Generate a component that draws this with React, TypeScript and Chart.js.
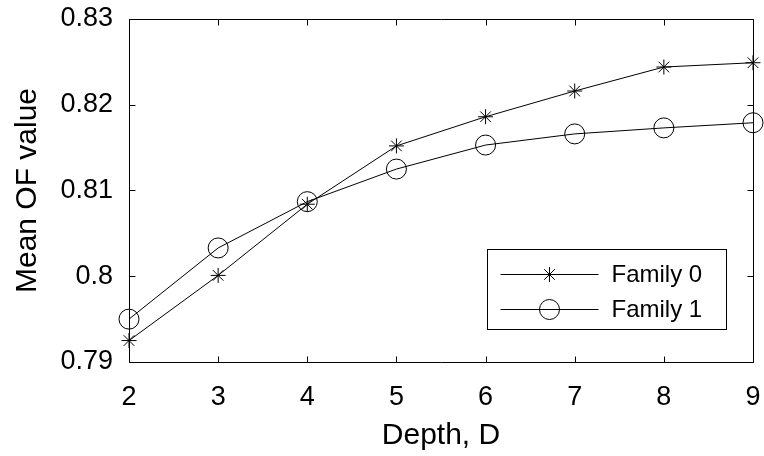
import React, { useEffect, useRef } from 'react';
import { Chart, registerables } from 'chart.js';

Chart.register(...registerables);

const depths = [2, 3, 4, 5, 6, 7, 8, 9];
const family0 = [0.7925, 0.8001, 0.8084, 0.8152, 0.8186, 0.8216, 0.8244, 0.8249];
const family1 = [0.795, 0.8033, 0.8087, 0.8125, 0.8153, 0.8166, 0.8173, 0.8179];
const seriesLabels = ['Family 0', 'Family 1'];
const seriesMarkers = ['star', 'circle'];
const yTicks = [0.79, 0.8, 0.81, 0.82, 0.83];
const xTicks = [2, 3, 4, 5, 6, 7, 8, 9];
const xTitle = 'Depth, D';
const yTitle = 'Mean OF value';

const FONT = "'Liberation Sans', Arial, Helvetica, sans-serif";

function drawMarker(ctx: CanvasRenderingContext2D, kind: string, cx: number, cy: number, r: number) {
  ctx.beginPath();
  if (kind === 'circle') {
    ctx.arc(cx, cy, r, 0, Math.PI * 2);
  } else {
    for (let i = 0; i < 4; i++) {
      const a = (i * Math.PI) / 4;
      const dx = Math.cos(a) * r;
      const dy = Math.sin(a) * r;
      ctx.moveTo(cx - dx, cy - dy);
      ctx.lineTo(cx + dx, cy + dy);
    }
  }
  ctx.stroke();
}

const framePlugin = {
  id: 'frameAndLegend',
  afterDraw(chart: any) {
    const { ctx, chartArea } = chart;
    const { left, right, top, bottom } = chartArea;
    const xs = chart.scales.x;
    const ys = chart.scales.y;
    const L = Math.round(left) + 0.5;
    const R = Math.round(right) + 0.5;
    const T = Math.round(top) + 0.5;
    const B = Math.round(bottom) + 0.5;
    const tick = 6;
    ctx.save();
    ctx.strokeStyle = '#000';
    ctx.lineWidth = 1;
    ctx.beginPath();
    ctx.rect(L, T, R - L, B - T);
    ctx.stroke();
    ctx.beginPath();
    xTicks.forEach((v) => {
      const px = Math.round(xs.getPixelForValue(v)) + 0.5;
      ctx.moveTo(px, B);
      ctx.lineTo(px, B - tick);
      ctx.moveTo(px, T);
      ctx.lineTo(px, T + tick);
    });
    yTicks.forEach((v) => {
      const py = Math.round(ys.getPixelForValue(v)) + 0.5;
      ctx.moveTo(L, py);
      ctx.lineTo(L + tick, py);
      ctx.moveTo(R, py);
      ctx.lineTo(R - tick, py);
    });
    ctx.stroke();

    // legend
    const bw = 239;
    const bh = 80;
    const bx = Math.round(right) - 27 - bw + 0.5;
    const by = Math.round(bottom) - 33 - bh + 0.5;
    ctx.fillStyle = '#fff';
    ctx.fillRect(bx, by, bw, bh);
    ctx.strokeRect(bx, by, bw, bh);
    const rows = [24, 59];
    ctx.font = `24px ${FONT}`;
    ctx.textBaseline = 'middle';
    ctx.textAlign = 'left';
    ctx.fillStyle = '#000';
    seriesLabels.forEach((lab, i) => {
      const cy = Math.round(by + rows[i]) + 0.5;
      ctx.beginPath();
      ctx.moveTo(bx + 13, cy);
      ctx.lineTo(bx + 111, cy);
      ctx.stroke();
      drawMarker(ctx, seriesMarkers[i], bx + 62, cy, i === 0 ? 7.5 : 10);
      ctx.fillText(lab, bx + 124, cy + 1);
    });
    ctx.restore();
  },
};

function clearPadding(s: any) {
  s.paddingTop = 0;
  s.paddingBottom = 0;
  s.paddingLeft = 0;
  s.paddingRight = 0;
}

export default function App() {
  const ref = useRef<HTMLCanvasElement | null>(null);
  useEffect(() => {
    if (!ref.current) return;
    const chart = new Chart(ref.current, {
      type: 'line',
      data: {
        datasets: [
          {
            label: seriesLabels[0],
            data: depths.map((d, i) => ({ x: d, y: family0[i] })),
            borderColor: '#000',
            borderWidth: 1,
            pointStyle: 'star',
            pointRadius: 7.5,
            pointBorderColor: '#000',
            pointBorderWidth: 1,
            pointBackgroundColor: 'rgba(0,0,0,0)',
            tension: 0,
            clip: false as any,
          },
          {
            label: seriesLabels[1],
            data: depths.map((d, i) => ({ x: d, y: family1[i] })),
            borderColor: '#000',
            borderWidth: 1,
            pointStyle: 'circle',
            pointRadius: 10,
            pointBorderColor: '#000',
            pointBorderWidth: 1,
            pointBackgroundColor: 'rgba(0,0,0,0)',
            tension: 0,
            clip: false as any,
          },
        ],
      },
      options: {
        animation: false,
        responsive: false,
        maintainAspectRatio: false,
        events: [],
        layout: { padding: { top: 19, right: 9, left: 0, bottom: 0 } },
        plugins: { legend: { display: false }, tooltip: { enabled: false } },
        scales: {
          x: {
            type: 'linear',
            min: 2,
            max: 9,
            afterBuildTicks: (s: any) => {
              s.ticks = xTicks.map((v) => ({ value: v }));
            },
            afterFit: (s: any) => {
              s.height = 94;
              clearPadding(s);
            },
            grid: { display: false, drawTicks: false },
            border: { display: false },
            ticks: {
              color: '#000',
              font: { family: FONT, size: 27 },
              padding: 19,
              maxRotation: 0,
              autoSkip: false,
              callback: (v: any) => String(v),
            },
            title: {
              display: true,
              text: xTitle,
              color: '#000',
              font: { family: FONT, size: 30 },
              padding: { top: 0, bottom: 2 },
            },
          },
          y: {
            type: 'linear',
            min: 0.79,
            max: 0.83,
            afterBuildTicks: (s: any) => {
              s.ticks = yTicks.map((v) => ({ value: v }));
            },
            afterFit: (s: any) => {
              s.width = 129;
              clearPadding(s);
            },
            grid: { display: false, drawTicks: false },
            border: { display: false },
            ticks: {
              color: '#000',
              font: { family: FONT, size: 27 },
              padding: 16,
              autoSkip: false,
              callback: (v: any) => String(Number(Number(v).toFixed(2))),
            },
            title: {
              display: true,
              text: yTitle,
              color: '#000',
              font: { family: FONT, size: 30 },
              padding: { top: 10, bottom: 0 },
            },
          },
        },
      },
      plugins: [framePlugin],
    });
    return () => chart.destroy();
  }, []);
  return (
    <div style={{ position: 'fixed', left: 0, top: 0, width: 764, height: 456, background: '#fff' }}>
      <canvas ref={ref} width={764} height={456} style={{ width: 764, height: 456, display: 'block' }} />
    </div>
  );
}
